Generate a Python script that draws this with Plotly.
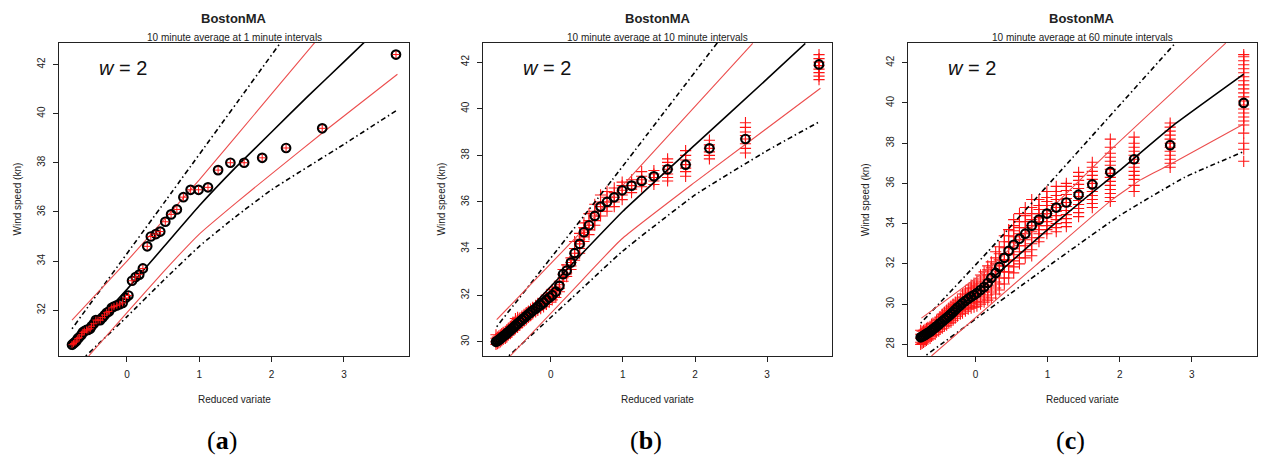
import plotly.graph_objects as go

# ---------------- data ----------------
reduced_variate = [3.72, 2.70, 2.20, 1.87, 1.62, 1.43, 1.26, 1.12, 0.99, 0.88,
                   0.78, 0.69, 0.61, 0.53, 0.46, 0.40, 0.33, 0.28, 0.22, 0.17,
                   0.12, 0.07, 0.02, -0.02, -0.06, -0.10, -0.14, -0.18, -0.21, -0.25,
                   -0.28, -0.31, -0.34, -0.37, -0.40, -0.43, -0.46, -0.49, -0.51, -0.54,
                   -0.56, -0.59, -0.61, -0.63, -0.66, -0.68, -0.70, -0.72, -0.74, -0.76]

speed_a = [42.4, 39.4, 38.6, 38.2, 38.0, 38.0, 37.7, 37.0, 36.9, 36.9,
           36.6, 36.1, 35.9, 35.6, 35.2, 35.1, 35.0, 34.6, 33.7, 33.45,
           33.35, 33.2, 32.6, 32.5, 32.3, 32.25, 32.2, 32.15, 32.1, 31.95,
           31.9, 31.8, 31.7, 31.6, 31.6, 31.6, 31.45, 31.35, 31.25, 31.2,
           31.2, 31.15, 31.1, 31.0, 30.9, 30.85, 30.75, 30.7, 30.65, 30.6]

speed_b = [41.9, 38.7, 38.3, 37.6, 37.4, 37.1, 36.9, 36.7, 36.5, 36.2,
           36.0, 35.8, 35.4, 35.0, 34.7, 34.2, 33.8, 33.4, 33.05, 32.9,
           32.4, 32.15, 32.0, 31.9, 31.8, 31.68, 31.58, 31.5, 31.42, 31.34,
           31.26, 31.18, 31.1, 31.02, 30.94, 30.86, 30.78, 30.7, 30.63, 30.56,
           30.49, 30.42, 30.36, 30.3, 30.24, 30.18, 30.13, 30.08, 30.04, 30.0]

speed_c = [40.0, 37.9, 37.2, 36.57, 35.95, 35.44, 35.05, 34.8, 34.5, 34.2,
           33.9, 33.5, 33.25, 32.95, 32.65, 32.3, 31.85, 31.55, 31.3, 31.05,
           30.85, 30.7, 30.55, 30.45, 30.37, 30.27, 30.16, 30.05, 29.94, 29.83,
           29.72, 29.61, 29.51, 29.41, 29.32, 29.23, 29.14, 29.06, 28.98, 28.9,
           28.83, 28.76, 28.69, 28.63, 28.57, 28.52, 28.47, 28.43, 28.39, 28.35]

# individual sample maxima (red crosses), one list per rank
samples_b = [
    [41.25, 41.4, 41.55, 41.7, 41.85, 42.0, 42.15, 42.32],
    [38.1, 38.3, 38.5, 38.7, 38.85, 39.0, 39.2, 39.4],
    [37.85, 38.0, 38.15, 38.3, 38.45, 38.65],
    [37.1, 37.3, 37.45, 37.6, 37.8, 38.0, 38.2],
    [36.9, 37.05, 37.2, 37.4, 37.55, 37.7, 37.85],
    [36.75, 36.9, 37.05, 37.2, 37.35],
    [36.65, 36.8, 36.95, 37.1, 37.3],
    [36.4, 36.55, 36.7, 36.85, 36.95],
    [36.1, 36.3, 36.5, 36.7, 36.85],
    [35.8, 36.0, 36.2, 36.4, 36.6],
    [35.6, 35.8, 36.0, 36.2, 36.45],
    [35.4, 35.6, 35.8, 36.0, 36.3],
    [35.0, 35.2, 35.4, 35.6, 35.9],
    [34.6, 34.8, 35.0, 35.2, 35.5],
    [34.3, 34.5, 34.7, 34.9, 35.1],
    [33.8, 34.0, 34.2, 34.4, 34.65],
    [33.5, 33.65, 33.8, 34.0, 34.3],
    [33.1, 33.25, 33.4, 33.6],
    [32.8, 32.95, 33.1, 33.3],
    [32.6, 32.75, 32.9, 33.1],
    [32.15, 32.3, 32.45, 32.6],
    [31.9, 32.05, 32.2, 32.35],
    [31.8, 31.95, 32.1, 32.25],
    [31.7, 31.9, 32.1],
    [31.6, 31.8, 32.0],
    [31.5, 31.68, 31.85],
    [31.42, 31.58, 31.74],
    [31.35, 31.5, 31.65],
    [31.28, 31.42, 31.56],
    [31.2, 31.34, 31.48],
    [31.12, 31.26, 31.4],
    [31.05, 31.18, 31.32],
    [30.95, 31.1, 31.25],
    [30.88, 31.02, 31.18],
    [30.8, 30.94, 31.1],
    [30.7, 30.86, 31.02],
    [30.62, 30.78, 30.95, 31.05],
    [30.56, 30.7, 30.88, 31.0],
    [30.5, 30.63, 30.8],
    [30.42, 30.56, 30.72],
    [30.35, 30.49, 30.65],
    [30.28, 30.42, 30.58],
    [30.2, 30.36, 30.5],
    [30.15, 30.3, 30.45],
    [30.1, 30.24, 30.4],
    [30.05, 30.18, 30.35],
    [30.0, 30.13, 30.3],
    [29.95, 30.08, 30.25],
    [29.92, 30.04, 30.2],
    [29.89, 30.0, 30.15, 30.3],
]

samples_c = [
    [37.1, 37.7, 38.0, 38.5, 38.9, 39.1, 39.3, 39.5, 39.7, 39.9, 40.1, 40.3, 40.5, 40.7, 40.9, 41.1, 41.3, 41.5, 41.7, 41.9, 42.1, 42.3, 42.4],
    [36.8, 37.0, 37.2, 37.4, 37.6, 37.8, 38.0, 38.2, 38.4, 38.6, 38.8, 39.0],
    [35.6, 35.9, 36.2, 36.4, 36.6, 36.8, 37.0, 37.2, 37.4, 37.6, 37.8, 38.0, 38.3],
    [35.1, 35.3, 35.5, 35.7, 35.9, 36.1, 36.3, 36.5, 36.7, 36.9, 37.1, 37.3, 37.5, 37.8, 38.2],
    [34.8, 35.0, 35.2, 35.4, 35.6, 35.8, 36.0, 36.2, 36.4, 36.6, 36.8, 37.05],
    [34.35, 34.55, 34.75, 34.95, 35.15, 35.35, 35.55, 35.75, 35.95, 36.15, 36.35, 36.55],
    [33.85, 34.05, 34.25, 34.45, 34.65, 34.85, 35.05, 35.25, 35.45, 35.65, 35.85, 36.0],
    [33.6, 33.8, 34.0, 34.2, 34.4, 34.6, 34.8, 35.0, 35.2, 35.4, 35.6, 35.85],
    [33.5, 33.7, 33.9, 34.1, 34.3, 34.5, 34.7, 34.9, 35.1, 35.3, 35.6],
    [33.1, 33.3, 33.5, 33.7, 33.9, 34.1, 34.3, 34.5, 34.7, 34.9, 35.2],
    [32.4, 32.7, 33.0, 33.3, 33.6, 33.9, 34.2, 34.5, 34.8, 35.2],
    [32.3, 32.6, 32.9, 33.2, 33.5, 33.8, 34.1, 34.4, 34.8],
    [32.0, 32.3, 32.6, 32.9, 33.2, 33.5, 33.8, 34.1, 34.5],
    [31.55, 31.85, 32.15, 32.45, 32.75, 33.05, 33.35, 33.65, 33.9, 34.2],
    [31.3, 31.6, 31.9, 32.2, 32.5, 32.8, 33.1, 33.4, 33.7],
    [31.0, 31.3, 31.6, 31.9, 32.2, 32.5, 32.8, 33.1, 33.4],
    [30.7, 31.0, 31.3, 31.6, 31.9, 32.2, 32.5, 32.85],
    [30.5, 30.8, 31.1, 31.4, 31.7, 32.0, 32.3, 32.6],
    [30.3, 30.6, 30.9, 31.2, 31.5, 31.8, 32.1],
    [30.2, 30.45, 30.7, 30.95, 31.2, 31.45, 31.7, 31.9],
    [30.1, 30.35, 30.6, 30.85, 31.1, 31.35, 31.6],
    [30.0, 30.25, 30.5, 30.75, 31.0, 31.25, 31.45],
    [29.9, 30.15, 30.4, 30.65, 30.9, 31.15],
    [29.85, 30.1, 30.35, 30.6, 30.85, 31.05],
    [29.8, 30.05, 30.3, 30.55, 30.8, 30.95],
    [29.75, 29.95, 30.15, 30.35, 30.55, 30.75],
    [29.65, 29.85, 30.05, 30.25, 30.45, 30.65],
    [29.55, 29.75, 29.95, 30.15, 30.35, 30.5],
    [29.5, 29.7, 29.9, 30.1, 30.3],
    [29.4, 29.6, 29.8, 30.0, 30.2],
    [29.3, 29.5, 29.7, 29.9, 30.1],
    [29.2, 29.4, 29.6, 29.8, 30.0],
    [29.1, 29.3, 29.5, 29.7, 29.9],
    [29.05, 29.25, 29.45, 29.65, 29.8],
    [28.95, 29.15, 29.35, 29.55, 29.7],
    [28.9, 29.1, 29.3, 29.5, 29.6],
    [28.8, 29.0, 29.2, 29.4, 29.5],
    [28.75, 28.95, 29.15, 29.35],
    [28.65, 28.85, 29.05, 29.25],
    [28.6, 28.8, 29.0, 29.2],
    [28.5, 28.7, 28.9, 29.1],
    [28.45, 28.65, 28.85, 29.05],
    [28.4, 28.6, 28.8, 29.0],
    [28.3, 28.5, 28.7, 28.9],
    [28.25, 28.45, 28.65, 28.85],
    [28.2, 28.4, 28.6, 28.8],
    [28.15, 28.35, 28.55, 28.75],
    [28.1, 28.3, 28.5, 28.7],
    [28.05, 28.25, 28.45, 28.65],
    [28.0, 28.1, 28.3, 28.5, 28.7],
]

# fitted curve, inner (red) band and outer (dash-dot) band for each panel
fit_a_x = [-0.76, 0.0, 0.5, 1.0, 1.5, 2.0, 2.5, 3.0, 3.3]
fit_a_y = [30.4, 32.85, 34.55, 36.25, 37.8, 39.25, 40.7, 42.1, 42.95]
inner_up_a_x = [-0.76, 0.0, 1.0, 2.0, 2.6]
inner_up_a_y = [31.6, 34.0, 37.3, 40.8, 42.9]
inner_lo_a_x = [-0.53, 0.0, 0.5, 1.0, 1.5, 2.0, 2.74, 3.74]
inner_lo_a_y = [30.14, 31.9, 33.55, 35.1, 36.35, 37.55, 39.3, 41.6]
outer_up_a_x = [-0.76, 0.54, 2.12]
outer_up_a_y = [31.25, 36.48, 42.87]
outer_lo_a_x = [-0.57, 0.0, 0.5, 1.0, 1.5, 2.0, 3.0, 3.74]
outer_lo_a_y = [30.14, 31.74, 33.2, 34.6, 35.8, 36.9, 38.75, 40.15]

fit_b_x = [-0.76, -0.31, 0.5, 1.0, 2.0, 3.0, 3.53]
fit_b_y = [29.9, 31.36, 34.0, 35.6, 38.45, 41.28, 42.8]
inner_up_b_x = [-0.75, 0.385, 0.98, 2.8]
inner_up_b_y = [30.95, 34.6, 36.65, 42.8]
inner_lo_b_x = [-0.56, 0.3, 0.98, 2.0, 3.74]
inner_lo_b_y = [29.4, 32.2, 34.4, 36.85, 40.88]
outer_up_b_x = [-0.75, 0.85, 2.31]
outer_up_b_y = [30.65, 36.94, 42.83]
outer_lo_b_x = [-0.58, 0.3, 1.0, 2.0, 3.0, 3.73]
outer_lo_b_y = [29.4, 31.9, 33.9, 36.3, 38.2, 39.45]

fit_c_x = [-0.76, 0.0, 0.5, 1.0, 1.5, 2.0, 2.73, 3.72]
fit_c_y = [28.15, 30.54, 32.13, 33.7, 35.2, 36.65, 38.85, 41.43]
inner_up_c_x = [-0.75, 0.24, 1.9, 3.47]
inner_up_c_y = [29.3, 31.95, 37.75, 42.97]
inner_lo_c_x = [-0.61, 0.84, 1.89, 2.3, 2.73, 3.72]
inner_lo_c_y = [27.42, 31.94, 35.18, 36.2, 37.0, 38.95]
outer_up_c_x = [-0.76, 0.17, 2.77]
outer_up_c_y = [29.05, 32.6, 42.97]
outer_lo_c_x = [-0.68, 0.84, 2.0, 2.9, 3.72]
outer_lo_c_y = [27.47, 31.45, 34.4, 36.3, 37.58]

station = "BostonMA"
subtitles = ["10 minute average at 1 minute intervals",
             "10 minute average at 10 minute intervals",
             "10 minute average at 60 minute intervals"]
panel_letters = ["a", "b", "c"]
x_ticks = [0, 1, 2, 3]
y_ticks_a = [32, 34, 36, 38, 40, 42]
y_ticks_b = [30, 32, 34, 36, 38, 40, 42]
y_ticks_c = [28, 30, 32, 34, 36, 38, 40, 42]
x_title = "Reduced variate"
y_title = "Wind speed (kn)"
w_label = "<i>w</i> = 2"

# ---------------- layout geometry ----------------
W, H = 1270, 462
box_left = [59, 483, 907.7]
box_right = [409, 832, 1256.7]
box_top, box_bottom = 43, 356
x_range = [-0.94, 3.90]
y_ranges = [[30.14, 42.87], [29.39, 42.82], [27.42, 42.98]]

SANS = "Liberation Sans, Arial, sans-serif"
TXT = "#222222"
RED = "rgb(236,78,78)"
CROSS_RED = "rgb(255,20,20)"

fig = go.Figure()

panels = [
    dict(y=speed_a, samples=None,
         fit=(fit_a_x, fit_a_y), iu=(inner_up_a_x, inner_up_a_y), il=(inner_lo_a_x, inner_lo_a_y),
         ou=(outer_up_a_x, outer_up_a_y), ol=(outer_lo_a_x, outer_lo_a_y), yt=y_ticks_a),
    dict(y=speed_b, samples=samples_b,
         fit=(fit_b_x, fit_b_y), iu=(inner_up_b_x, inner_up_b_y), il=(inner_lo_b_x, inner_lo_b_y),
         ou=(outer_up_b_x, outer_up_b_y), ol=(outer_lo_b_x, outer_lo_b_y), yt=y_ticks_b),
    dict(y=speed_c, samples=samples_c,
         fit=(fit_c_x, fit_c_y), iu=(inner_up_c_x, inner_up_c_y), il=(inner_lo_c_x, inner_lo_c_y),
         ou=(outer_up_c_x, outer_up_c_y), ol=(outer_lo_c_x, outer_lo_c_y), yt=y_ticks_c),
]

annotations = []
for i, p in enumerate(panels):
    sfx = "" if i == 0 else str(i + 1)
    xa, ya = "x" + sfx, "y" + sfx

    # red crosses (samples)
    if p["samples"] is not None:
        cx, cy = [], []
        for xv, vals in zip(reduced_variate, p["samples"]):
            for v in vals:
                cx.append(xv)
                cy.append(v)
        fig.add_trace(go.Scatter(x=cx, y=cy, mode="markers", xaxis=xa, yaxis=ya,
                                 marker=dict(symbol="cross-thin", size=8, color=CROSS_RED,
                                             line=dict(color=CROSS_RED, width=1.1)),
                                 hoverinfo="skip"))

    # outer dash-dot band
    for key in ("ou", "ol"):
        fig.add_trace(go.Scatter(x=p[key][0], y=p[key][1], mode="lines", xaxis=xa, yaxis=ya,
                                 line=dict(color="black", width=1.6, dash="1.5px,3px,5px,3px",
                                           shape="spline", smoothing=0.4)))
    # inner red band
    for key in ("iu", "il"):
        fig.add_trace(go.Scatter(x=p[key][0], y=p[key][1], mode="lines", xaxis=xa, yaxis=ya,
                                 line=dict(color=RED, width=1.1, shape="spline", smoothing=0.4)))
    # fitted line
    fig.add_trace(go.Scatter(x=p["fit"][0], y=p["fit"][1], mode="lines", xaxis=xa, yaxis=ya,
                             line=dict(color="black", width=1.6, shape="spline", smoothing=0.4)))

    # circles
    fig.add_trace(go.Scatter(x=reduced_variate, y=p["y"], mode="markers", xaxis=xa, yaxis=ya,
                             marker=dict(symbol="circle-open", size=8.5, color="black",
                                         line=dict(color="black", width=2.2))))
    if p["samples"] is None:
        fig.add_trace(go.Scatter(x=reduced_variate, y=p["y"], mode="markers", xaxis=xa, yaxis=ya,
                                 marker=dict(symbol="cross-thin", size=5, color=CROSS_RED,
                                             line=dict(color=CROSS_RED, width=1))))

    dom_x = [box_left[i] / W, box_right[i] / W]
    dom_y = [(H - box_bottom) / H, (H - box_top) / H]
    axis_common = dict(showline=True, linecolor="#222222", linewidth=1.3, mirror=True,
                       ticks="outside", ticklen=5, tickwidth=1, tickcolor="#222222",
                       showgrid=False, zeroline=False,
                       tickfont=dict(family=SANS, size=10, color=TXT))
    fig.layout["xaxis" + sfx] = dict(domain=dom_x, range=x_range, anchor=ya,
                                     tickvals=x_ticks, ticklabelstandoff=4, **axis_common)
    fig.layout["yaxis" + sfx] = dict(domain=dom_y, range=y_ranges[i], anchor=xa,
                                     tickvals=p["yt"], tickangle=-90, ticklabelstandoff=4,
                                     **axis_common)

    cx_paper = (box_left[i] + box_right[i]) / 2 / W
    annotations += [
        dict(text="<b>" + station + "</b>", x=cx_paper, y=(H - 19) / H, xref="paper", yref="paper",
             showarrow=False, xanchor="center", yanchor="middle",
             font=dict(family=SANS, size=13, color=TXT)),
        dict(text=subtitles[i], x=cx_paper, y=(H - 37) / H, xref="paper", yref="paper",
             showarrow=False, xanchor="center", yanchor="middle",
             font=dict(family=SANS, size=10, color=TXT)),
        dict(text=x_title, x=cx_paper, y=(H - 399) / H, xref="paper", yref="paper",
             showarrow=False, xanchor="center", yanchor="middle",
             font=dict(family=SANS, size=10, color=TXT)),
        dict(text=y_title, x=(box_left[i] - 42) / W, y=(H - 199.5) / H, xref="paper", yref="paper",
             showarrow=False, xanchor="center", yanchor="middle", textangle=-90,
             font=dict(family=SANS, size=10, color=TXT)),
        dict(text=w_label, x=(box_left[i] + 38) / W, y=(H - 68.5) / H, xref="paper", yref="paper",
             showarrow=False, xanchor="left", yanchor="middle",
             font=dict(family=SANS, size=20, color="#111111")),
        dict(text="(<b>" + panel_letters[i] + "</b>)", x=(cx_paper * W - 12) / W, y=(H - 440) / H,
             xref="paper", yref="paper", showarrow=False, xanchor="center", yanchor="middle",
             font=dict(family="Liberation Serif, Times New Roman, serif", size=26, color="black")),
    ]

fig.update_layout(width=W, height=H, margin=dict(l=0, r=0, t=0, b=0),
                  paper_bgcolor="white", plot_bgcolor="white", showlegend=False,
                  annotations=annotations)

fig.write_html("out.html", config={"displayModeBar": False})
